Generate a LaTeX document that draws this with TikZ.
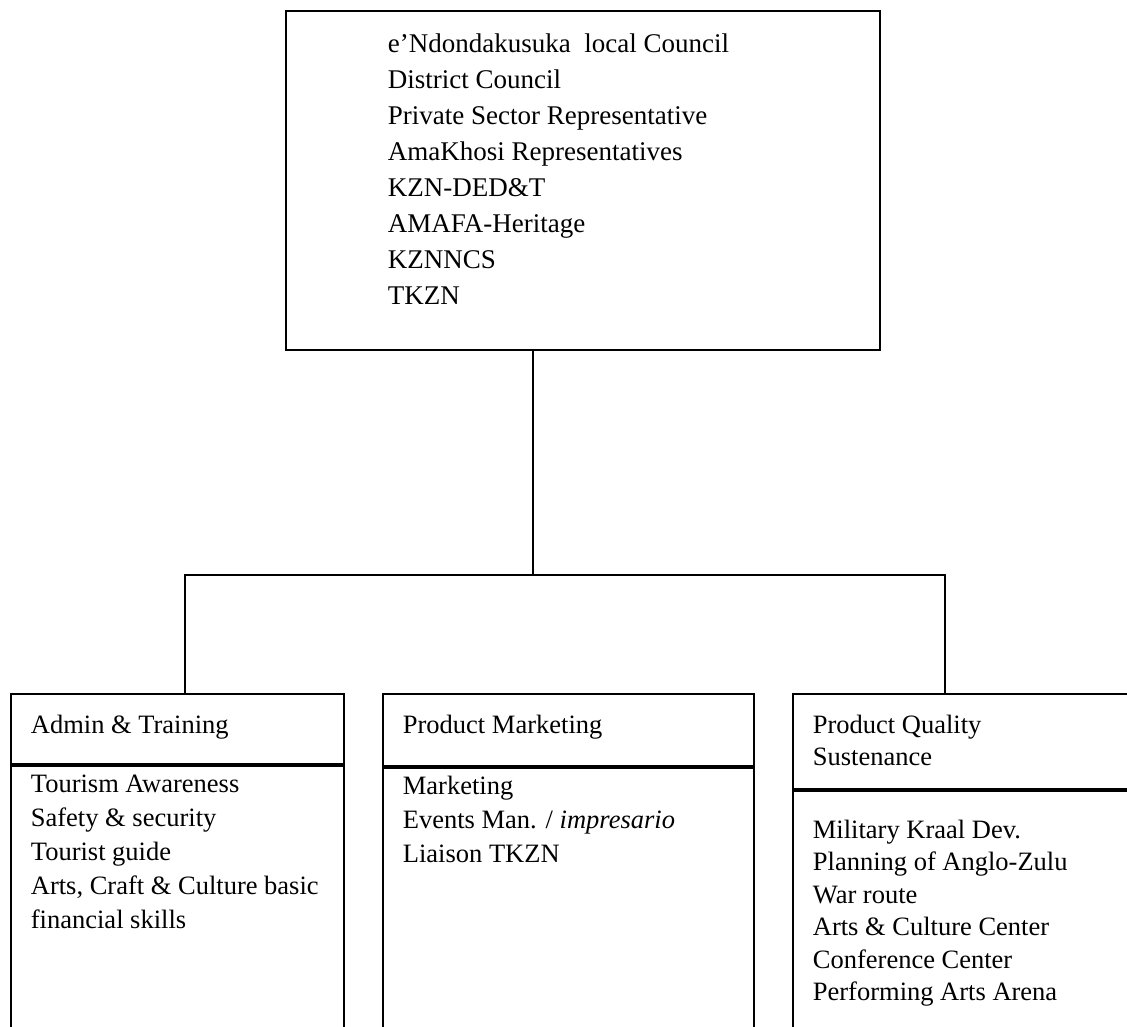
\documentclass[tikz,border=0pt]{standalone}
\usepackage{fontspec}
\setmainfont{Liberation Serif}
\usetikzlibrary{calc,positioning}

\begin{document}
\begin{tikzpicture}[x=1pt,y=-1pt,line width=1.8pt,
  every node/.style={draw,align=left,inner sep=0pt,anchor=north west},
  boxtext/.style={draw=none,font=\fontsize{26.5}{34}\selectfont}]
\useasboundingbox (0,0) rectangle (1127,1027);
\clip (0,0) rectangle (1127,1027);
% committee box
\node [minimum width=594pt,minimum height=339pt] (Board) at (285,10) {};
\node [boxtext,font=\fontsize{27}{36}\selectfont] (BoardList) at ($(Board.north west)+(102,23)$) {e'Ndondakusuka\ \ local Council\\District Council\\Private Sector Representative\\AmaKhosi Representatives\\KZN-DED\&T\\AMAFA-Heritage\\KZNNCS\\TKZN};
% task boxes
\node [minimum width=333pt,minimum height=70pt] (AdminHead) at (10,693) {};
\node [minimum width=333pt,minimum height=400pt] (AdminBody) at (AdminHead.south west) {};
\node [minimum width=371pt,minimum height=72pt] (MarketHead) at (382,693) {};
\node [minimum width=371pt,minimum height=400pt] (MarketBody) at (MarketHead.south west) {};
\node [minimum width=400pt,minimum height=95pt] (QualityHead) at (792,693) {};
\node [minimum width=400pt,minimum height=400pt] (QualityBody) at (QualityHead.south west) {};
\node [boxtext] (AdminTitle) at ($(AdminHead.north west)+(20,21)$) {Admin \& Training};
\node [boxtext] (AdminList) at ($(AdminBody.north west)+(20,9)$) {Tourism Awareness\\Safety \& security\\Tourist guide\\Arts, Craft \& Culture basic\\financial skills};
\node [boxtext] (MarketTitle) at ($(MarketHead.north west)+(20,21)$) {Product Marketing};
\node [boxtext] (MarketList) at ($(MarketBody.north west)+(20,8)$) {Marketing\\Events Man. / \textit{impresario}\\Liaison TKZN};
\node [boxtext,font=\fontsize{26.5}{32}\selectfont] (QualityTitle) at ($(QualityHead.north west)+(20,21)$) {Product Quality\\Sustenance};
\node [boxtext,font=\fontsize{26.5}{32.5}\selectfont] (QualityList) at ($(QualityBody.north west)+(20,29)$) {Military Kraal Dev.\\Planning of Anglo-Zulu\\War route\\Arts \& Culture Center\\Conference Center\\Performing Arts Arena};
% connectors
\coordinate (BusMid) at (533,575);
\coordinate (BusLeft) at (185,575);
\coordinate (BusRight) at (945,575);
\draw (Board.south -| BusMid) -- (BusMid);
\draw (AdminHead.north -| BusLeft) -- (BusLeft) -- (BusRight) -- (QualityHead.north -| BusRight);
\end{tikzpicture}
\end{document}
